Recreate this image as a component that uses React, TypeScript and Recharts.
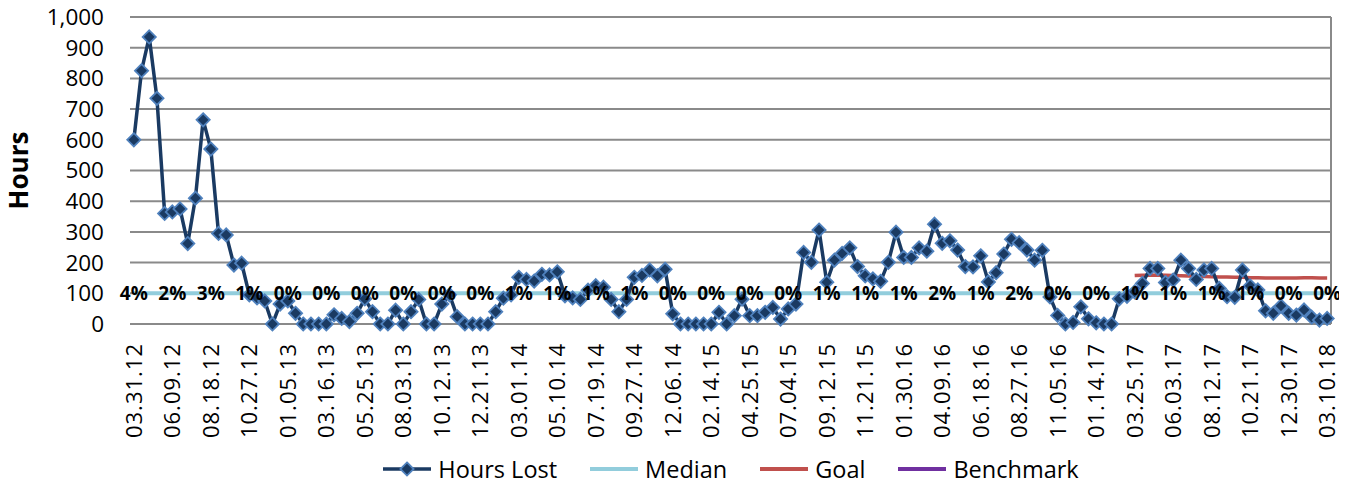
import React from 'react';
import { LineChart, Line, XAxis, YAxis, CartesianGrid, Legend, LabelList } from 'recharts';

// ---- Data ----
const START_DATE = Date.UTC(2012, 2, 31); // 03.31.12, biweekly periods

const hoursLost: number[] = [
  600, 825, 935, 735, 360, 365, 375, 262, 410, 665,
  570, 295, 290, 192, 198, 95, 85, 75, 0, 65,
  75, 35, 0, 0, 0, 0, 30, 18, 8, 35,
  82, 40, 0, 0, 45, 0, 40, 80, 0, 0,
  65, 95, 24, 0, 0, 0, 0, 40, 84, 95,
  152, 145, 140, 162, 160, 170, 92, 85, 80, 110,
  125, 120, 80, 40, 80, 152, 158, 176, 157, 178,
  33, 0, 0, 0, 0, 0, 38, 0, 27, 81,
  27, 27, 38, 54, 16, 49, 65, 233, 201, 306,
  136, 208, 230, 248, 187, 157, 147, 139, 201, 299,
  217, 217, 248, 237, 325, 263, 271, 241, 187, 186,
  222, 137, 167, 228, 276, 265, 241, 208, 240, 88,
  28, 0, 5, 56, 17, 4, 0, 0, 82, 90,
  105, 132, 181, 181, 135, 143, 208, 181, 145, 176,
  181, 116, 89, 87, 176, 124, 111, 43, 35, 59,
  35, 29, 46, 22, 13, 18,
];

const MEDIAN = 100;

const GOAL_START = 130;
const goalValues: number[] = [
  158, 159, 159, 160, 159, 158, 157, 156, 155, 155,
  154, 153, 153, 152, 152, 151, 151, 150, 150, 150,
  150, 150, 151, 151, 150, 150,
];

const tickLabels: string[] = [
  '03.31.12', '06.09.12', '08.18.12', '10.27.12', '01.05.13', '03.16.13', '05.25.13', '08.03.13',
  '10.12.13', '12.21.13', '03.01.14', '05.10.14', '07.19.14', '09.27.14', '12.06.14', '02.14.15',
  '04.25.15', '07.04.15', '09.12.15', '11.21.15', '01.30.16', '04.09.16', '06.18.16', '08.27.16',
  '11.05.16', '01.14.17', '03.25.17', '06.03.17', '08.12.17', '10.21.17', '12.30.17', '03.10.18',
];

const pctLabels: string[] = [
  '4%', '2%', '3%', '1%', '0%', '0%', '0%', '0%', '0%', '0%', '1%', '1%', '1%', '1%', '0%', '0%',
  '0%', '0%', '1%', '1%', '1%', '2%', '1%', '2%', '0%', '0%', '1%', '1%', '1%', '1%', '0%', '0%',
];

const yTicks: number[] = [0, 100, 200, 300, 400, 500, 600, 700, 800, 900, 1000];

const pad2 = (n: number) => (n < 10 ? '0' + n : '' + n);
const categories: string[] = hoursLost.map((_, i) => {
  const d = new Date(START_DATE + i * 14 * 86400000);
  return `${pad2(d.getUTCMonth() + 1)}.${pad2(d.getUTCDate())}.${pad2(d.getUTCFullYear() % 100)}`;
});

const data = categories.map((date, i) => ({
  date,
  hours: hoursLost[i],
  median: MEDIAN,
  pct: MEDIAN,
  goal: i >= GOAL_START ? goalValues[i - GOAL_START] : null,
  benchmark: null as number | null,
}));

// ---- Styles ----
const FONT = '"Open Sans", "Noto Sans", sans-serif';
const NAVY = '#1A3A62';
const DIAMOND_EDGE = '#4F81BD';
const MEDIAN_C = '#92CDDC';
const GOAL_C = '#C0504D';
const BENCH_C = '#7030A0';
const GRID_C = '#8A8A8A';

const Diamond = (props: any) => {
  const { cx, cy, index } = props;
  if (cx == null || cy == null) return <g key={`d-${index}`} />;
  const r = 6.6;
  return (
    <path
      key={`d-${index}`}
      d={`M${cx},${cy - r}L${cx + r},${cy}L${cx},${cy + r}L${cx - r},${cy}Z`}
      fill={NAVY}
      stroke={DIAMOND_EDGE}
      strokeWidth={1.8}
    />
  );
};

const XTick = (props: any) => {
  const { x, y, payload, index } = props;
  const idx = payload && typeof payload.index === 'number' ? payload.index : index * 5;
  const label = tickLabels[Math.round(idx / 5)] ?? payload.value;
  return (
    <g transform={`translate(${x},${y})`}>
      <text
        transform="rotate(-90)"
        x={-19}
        y={0}
        dy="0.36em"
        textAnchor="end"
        fontSize={22}
        fontFamily={FONT}
        letterSpacing={1}
        fill="#000"
      >
        {label}
      </text>
    </g>
  );
};

const PctLabel = (props: any) => {
  const { x, y, index, viewBox } = props;
  if (index % 5 !== 0) return null;
  const px = x ?? viewBox?.x;
  const py = y ?? viewBox?.y;
  return (
    <text
      x={px}
      y={py}
      dy="0.36em"
      textAnchor="middle"
      fontWeight="bold"
      fontSize={19}
      fontFamily={FONT}
      fill="#000"
    >
      {pctLabels[index / 5]}
    </text>
  );
};

const legendItems = [
  { name: 'Hours Lost', color: NAVY, diamond: true },
  { name: 'Median', color: MEDIAN_C, diamond: false },
  { name: 'Goal', color: GOAL_C, diamond: false },
  { name: 'Benchmark', color: BENCH_C, diamond: false },
];

const LegendContent = () => (
  <div
    style={{
      height: 44,
      display: 'flex',
      alignItems: 'center',
      justifyContent: 'center',
      paddingLeft: 122,
      fontFamily: FONT,
      fontSize: 23.5,
      color: '#000',
      boxSizing: 'border-box',
    }}
  >
    {legendItems.map((it, k) => (
      <div key={it.name} style={{ display: 'flex', alignItems: 'center', marginLeft: k === 0 ? 0 : 32 }}>
        <svg width={50} height={18} style={{ display: 'block' }}>
          <line x1={1} y1={9} x2={49} y2={9} stroke={it.color} strokeWidth={it.diamond ? 3.5 : 4} />
          {it.diamond && (
            <path d="M25,2.4L31.6,9L25,15.6L18.4,9Z" fill={NAVY} stroke={DIAMOND_EDGE} strokeWidth={1.8} />
          )}
        </svg>
        <span style={{ marginLeft: 6, lineHeight: '44px' }}>{it.name}</span>
      </div>
    ))}
  </div>
);

const HoursLabel = (props: any) => {
  const vb = props.viewBox || { x: 0, y: 17, width: 130, height: 307 };
  const cx = vb.x + 18;
  const cy = vb.y + vb.height / 2;
  return (
    <text
      transform={`translate(${cx},${cy}) rotate(-90)`}
      textAnchor="middle"
      dominantBaseline="central"
      fontSize={26}
      fontWeight="bold"
      fontFamily={FONT}
      fill="#000"
    >
      Hours
    </text>
  );
};

export default function App() {
  return (
    <div style={{ marginLeft: -8, marginTop: -8, width: 1347, height: 491, fontFamily: FONT, background: '#fff' }}>
      <LineChart
        width={1347}
        height={491}
        data={data}
        margin={{ top: 17, right: 8, left: 0, bottom: 0 }}
      >
        <CartesianGrid horizontal vertical={false} stroke={GRID_C} strokeWidth={2} />
        <XAxis
          dataKey="date"
          type="category"
          interval={4}
          height={123}
          padding={{ left: 3.85, right: 3.85 }}
          axisLine={false}
          tickLine={false}
          tickSize={0}
          tickMargin={0}
          tick={<XTick />}
        />
        <YAxis
          domain={[0, 1000]}
          ticks={yTicks}
          width={130}
          axisLine={false}
          tickLine={false}
          tickSize={0}
          tickMargin={26}
          interval={0}
          tickFormatter={(v: number) => v.toLocaleString('en-US')}
          tick={{ fontSize: 22.5, fill: '#000', fontFamily: FONT }}
          label={HoursLabel}
        />
        <YAxis
          yAxisId="r"
          orientation="right"
          domain={[0, 1000]}
          ticks={yTicks}
          width={8}
          interval={0}
          tick={false}
          tickSize={7}
          tickLine={{ stroke: GRID_C, strokeWidth: 2 }}
          axisLine={{ stroke: GRID_C, strokeWidth: 2 }}
        />
        <Legend verticalAlign="bottom" height={44} content={<LegendContent />} />
        <Line
          dataKey="median"
          name="Median"
          stroke={MEDIAN_C}
          strokeWidth={4}
          dot={false}
          activeDot={false}
          isAnimationActive={false}
        />
        <Line
          dataKey="benchmark"
          name="Benchmark"
          stroke={BENCH_C}
          strokeWidth={3.5}
          dot={false}
          activeDot={false}
          isAnimationActive={false}
        />
        <Line
          dataKey="goal"
          name="Goal"
          stroke={GOAL_C}
          strokeWidth={3.5}
          dot={false}
          activeDot={false}
          isAnimationActive={false}
        />
        <Line
          dataKey="hours"
          name="Hours Lost"
          stroke={NAVY}
          strokeWidth={3.5}
          dot={<Diamond />}
          activeDot={false}
          isAnimationActive={false}
        />
        <Line
          dataKey="pct"
          name="pct"
          legendType="none"
          stroke="none"
          dot={false}
          activeDot={false}
          isAnimationActive={false}
        >
          <LabelList dataKey="pct" content={<PctLabel />} />
        </Line>
      </LineChart>
    </div>
  );
}
